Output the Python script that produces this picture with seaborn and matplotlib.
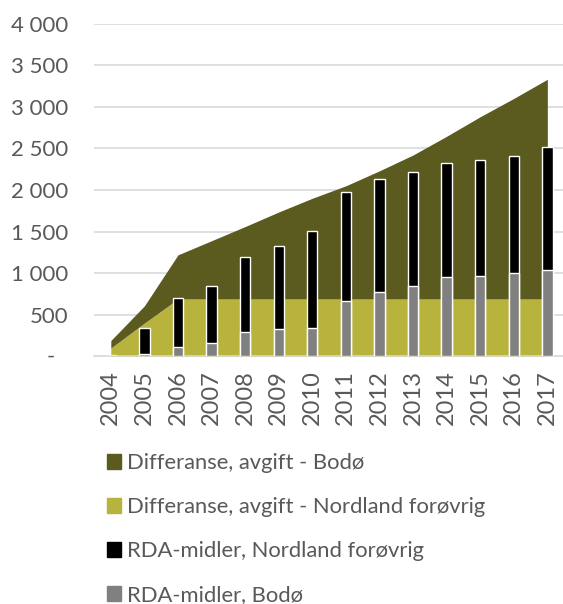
import numpy as np
import seaborn as sns
import matplotlib.pyplot as plt
from matplotlib.patches import Patch
from matplotlib.ticker import FuncFormatter
from matplotlib.transforms import blended_transform_factory

# Data
years = [str(y) for y in range(2004, 2018)]
diff_nordland = [100, 400, 690, 690, 690, 690, 690, 690, 690, 690, 690, 690, 690, 690]
diff_total = [190, 607, 1220, 1390, 1560, 1735, 1900, 2050, 2230, 2420, 2645, 2880, 3100, 3330]
diff_bodo = [t - n for t, n in zip(diff_total, diff_nordland)]
rda_total = [15, 339, 707, 851, 1196, 1328, 1505, 1981, 2130, 2214, 2322, 2362, 2414, 2518]
rda_bodo = [5, 30, 110, 159, 291, 327, 346, 671, 779, 851, 952, 971, 1000, 1040]

labels = ["Differanse, avgift - Bodø", "Differanse, avgift - Nordland forøvrig",
          "RDA-midler, Nordland forøvrig", "RDA-midler, Bodø"]
c_dark = "#5B5A1F"
c_light = "#B7B33D"
c_black = "#000000"
c_gray = "#808080"
txt = "#595959"

sns.set_style("white")
plt.rcParams['font.family'] = ['Lato', 'DejaVu Sans']

fig = plt.figure(figsize=(5.63, 6.04), dpi=100)
ax = fig.add_axes([0.167, 0.41, 0.835, 0.551])

# stacked areas
x = np.arange(len(years))
ax.stackplot(x, diff_nordland, diff_bodo, colors=[c_light, c_dark], zorder=1, linewidth=0)

# stacked bars
sns.barplot(x=years, y=rda_total, color=c_black, width=0.31, ax=ax, zorder=2, saturation=1)
sns.barplot(x=years, y=rda_bodo, color=c_gray, width=0.31, ax=ax, zorder=3, saturation=1)

ax.set_xlim(-0.5, len(years) - 0.5)
ax.set_ylim(0, 4000)
ax.set_yticks(range(0, 4001, 500))
# zero is shown as a dash (accounting format), placed separately
ax.yaxis.set_major_formatter(FuncFormatter(
    lambda v, p: "" if v == 0 else f"{int(v):,}".replace(",", " ")))
ax.text(51 / 563, 0, "-", transform=blended_transform_factory(fig.transFigure, ax.transData),
        ha='center', va='center', fontsize=16, color="#595959")
ax.grid(axis='y', color="#D9D9D9", linewidth=1.2, zorder=0)
ax.set_axisbelow(True)
for s in ['top', 'right', 'left']:
    ax.spines[s].set_visible(False)
ax.spines['bottom'].set_color("#D9D9D9")
ax.spines['bottom'].set_linewidth(1.2)
ax.tick_params(axis='both', length=0, colors=txt)
ax.tick_params(axis='y', pad=18.5, labelsize=16)
ax.tick_params(axis='x', pad=10, labelsize=17)
plt.setp(ax.get_xticklabels(), rotation=90)
ax.set_xlabel("")
ax.set_ylabel("")

handles = [Patch(color=c) for c in [c_dark, c_light, c_black, c_gray]]
fig.legend(handles, labels, loc='upper left', bbox_to_anchor=(106.7 / 563, 1 - 453 / 604),
           frameon=False, fontsize=15.8, labelcolor=txt, handlelength=0.64, handleheight=0.64,
           handletextpad=0.3, labelspacing=1.1, borderpad=0, borderaxespad=0)

fig.savefig("out.png", dpi=100)
